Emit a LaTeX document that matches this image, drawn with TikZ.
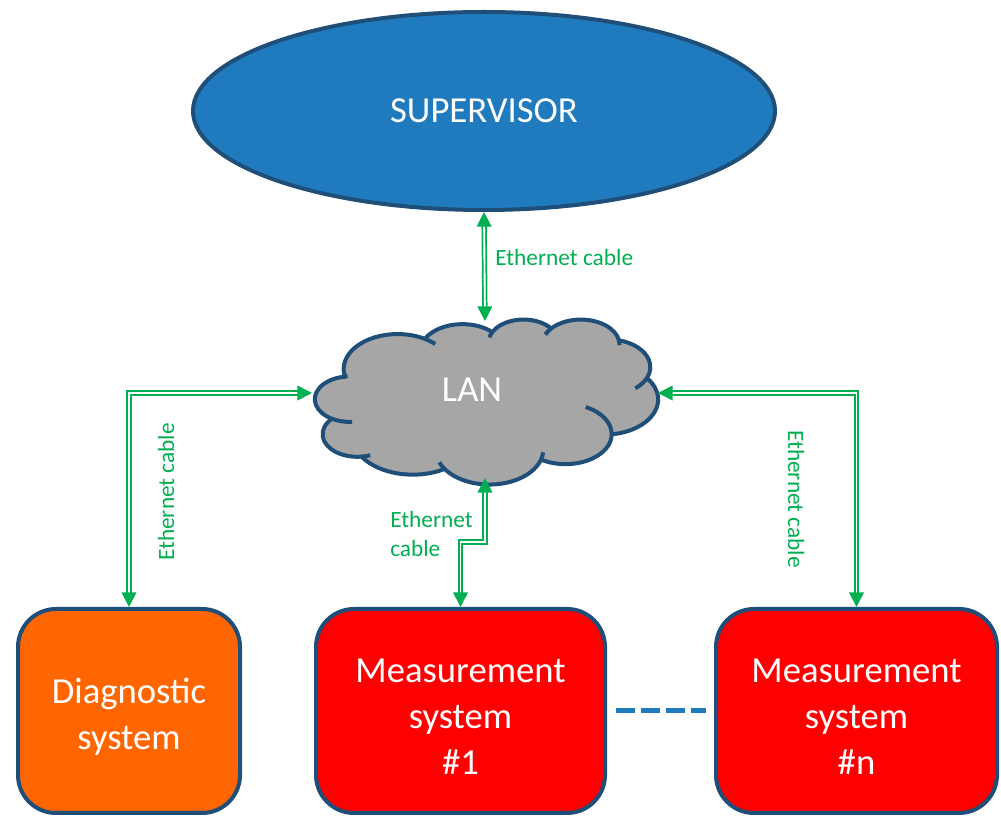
\documentclass[tikz,border=0pt]{standalone}
\usepackage{fontspec}
\setmainfont{Carlito}
\usetikzlibrary{arrows.meta,shapes.geometric}
\definecolor{supblue}{HTML}{1F7BBE}
\definecolor{edgeblue}{HTML}{1F4E79}
\definecolor{langray}{HTML}{A6A6A6}
\definecolor{diagorange}{HTML}{FF6600}
\definecolor{measred}{HTML}{FF0000}
\definecolor{cablegreen}{HTML}{00B050}
\begin{document}
\begin{tikzpicture}[x=0.75pt, y=-0.75pt,
  % parametric angle of the ellipse point seen at angle \ang from the centre
  declare function={pang(\rx,\ry,\ang)=atan2((\rx)*sin(\ang),(\ry)*cos(\ang));},
  % one puff of the cloud outline: radii, start angle, positive sweep
  lobe/.style n args={4}{x radius=#1, y radius=#2, start angle={pang(#1,#2,#3)},
    delta angle={mod(pang(#1,#2,(#3)+(#4))-pang(#1,#2,#3)+720,360)}},
  % short inner fold of a puff, sweep of either sign
  fold/.style n args={4}{x radius=#1, y radius=#2, start angle={pang(#1,#2,#3)},
    delta angle={mod(pang(#1,#2,(#3)+(#4))-pang(#1,#2,#3)+540,360)-180}},
  outline/.style={draw=edgeblue, line width=3pt},
  bigtext/.style={text=white, font=\fontsize{27.5}{34.5}\selectfont},
  sysbox/.style={outline, bigtext, rounded corners=28.5pt, minimum height=153pt,
    inner sep=0pt, align=center},
  cable/.style={draw=cablegreen, line width=1.3pt, double=white, double distance=1.4pt,
    >={Triangle[length=11pt,width=11pt]}, <->},
  cablelabel/.style={text=cablegreen, font=\fontsize{17.5}{21.75}\selectfont, inner sep=0pt},
  dashlink/.style={draw=supblue, line width=3.75pt, dash pattern=on 14.25pt off 4.5pt,
    shorten <=6.75pt, shorten >=6pt},
]
\useasboundingbox (0,0) rectangle (1001,816);
\clip (0,0) rectangle (1001,816);

% supervisor
\node[ellipse, outline, fill=supblue, minimum width=436.5pt, minimum height=148.5pt,
  inner sep=0pt, bigtext] (sup) at (484,111) {SUPERVISOR};

% LAN cloud, drawn in a 4320 x 4320 frame
\begin{scope}[shift={(313,319)}, x=0.059896pt, y=-0.028646pt, line join=round]
  \draw[outline, fill=langray] (390,1437) coordinate (k0)
    arc[lobe={675.3}{919.0}{-190.48748}{123.78053}] coordinate (k1)
    arc[lobe={533.3}{726.7}{-144.10238}{89.94523}] coordinate (k2)
    arc[lobe={436.5}{594.5}{-145.80792}{99.72302}] coordinate (k3)
    arc[lobe={485.7}{659.5}{-130.98607}{117.24173}] coordinate (k4)
    arc[lobe={533.3}{727.3}{-78.70888}{109.02692}] coordinate (k5)
    arc[lobe={677.5}{922.0}{-46.26725}{130.269}] coordinate (k6)
    arc[lobe={578.5}{786.7}{0.62502}{114.03333}] coordinate (k7)
    arc[lobe={675.2}{921.5}{22.4516}{115.17255}] coordinate (k8)
    arc[lobe={772.0}{1054.3}{66.24263}{71.6325}] coordinate (k9)
    arc[lobe={436.0}{591.8}{-274.94208}{146.73557}] coordinate (k10)
    arc[lobe={434.5}{594.5}{-246.8285}{152.51885}] -- cycle;
  \draw[outline]
    (k10) arc[fold={434.5}{594.5}{-246.8285}{-26.4295}]
    (k9) arc[fold={436.0}{591.8}{-274.94208}{-11.44747}]
    (k8) arc[fold={675.2}{921.5}{137.62415}{14.0811}]
    (k7) arc[fold={675.2}{921.5}{22.4516}{-15.99835}]
    (k6) arc[fold={578.5}{786.7}{0.62502}{-70.91737}]
    (k5) arc[fold={533.3}{727.3}{30.31804}{27.7515}]
    (k4) arc[fold={485.7}{659.5}{-13.74434}{14.8589}]
    (k3) arc[fold={485.7}{659.5}{-130.98607}{-18.19537}]
    (k2) arc[fold={436.5}{594.5}{-145.80792}{-17.68635}]
    (k1) arc[fold={675.3}{919.0}{-66.70695}{12.31935}]
    (k0) arc[fold={675.3}{919.0}{-190.48748}{-10}];
\end{scope}
\node[bigtext, inner sep=0pt] (lan) at (472,390) {LAN};
\coordinate (lanN) at (485,321);
\coordinate (lanW) at (312,393);
\coordinate (lanE) at (658,393);
\coordinate (lanS) at (485,478);

% systems
\node[sysbox, fill=diagorange, minimum width=166.5pt] (diag) at (129,711)
  {\rule{0pt}{1em}Diagnostic\\system};
\node[sysbox, fill=measred, minimum width=216.75pt] (m1) at (460.5,711)
  {\rule{0pt}{0.95em}Measurement\\system\\\#1};
\node[sysbox, fill=measred, minimum width=210.75pt] (mn) at (856.5,711)
  {\rule{0pt}{0.95em}Measurement\\system\\\#n};
\draw[dashlink] (m1.east) -- (mn.west);

% ethernet cables
\draw[cable] (sup.south) -- (lanN);
\draw[cable] (lanW) -| (diag.north);
\draw[cable] (lanE) -| (mn.north);
\draw[cable] (lanS) -- ++(0,64) -| (m1.north);

\node[cablelabel, anchor=base west] (lbltop) at (495,266) {Ethernet cable};
\node[cablelabel, anchor=base, rotate=90] (lblleft) at (174,492) {Ethernet cable};
\node[cablelabel, anchor=base, rotate=-90] (lblright) at (788,499) {Ethernet cable};
\node[cablelabel, anchor=north west, align=left] (lblmid) at (390,511) {Ethernet\\cable};
\end{tikzpicture}
\end{document}
